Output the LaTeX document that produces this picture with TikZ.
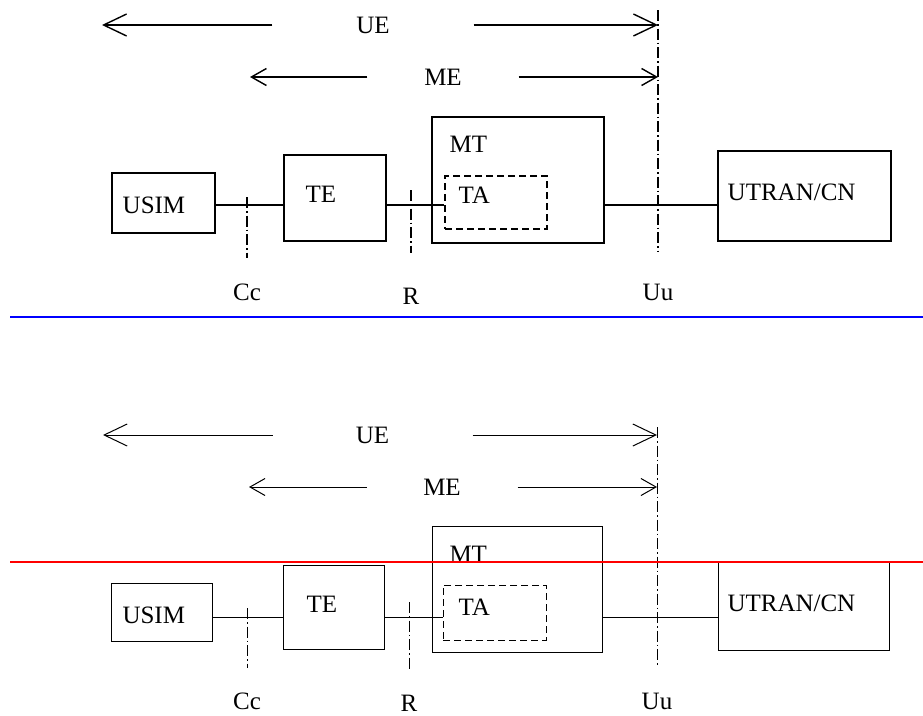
\documentclass[tikz,border=0pt]{standalone}
\usepackage{fontspec}
\setmainfont{Liberation Serif}
\usetikzlibrary{positioning,arrows.meta}

\begin{document}
\begin{tikzpicture}[x=1pt, y=-1pt, line width=1.4pt,
    box/.style={draw, rectangle, inner sep=0pt},
    tabox/.style={box, dash pattern=on 7pt off 4pt},
    txt/.style={inner sep=0pt, font=\fontsize{25}{30}\selectfont},
    refline/.style={dash pattern=on 11pt off 3pt on 1.5pt off 3pt},
    uespan/.style={-{Straight Barb[length=23pt, width=22pt]}},
    mespan/.style={-{Straight Barb[length=15pt, width=17pt]}}]
    \useasboundingbox (0,0) rectangle (923,715);

    % upper copy
    \node [box, minimum width=103pt, minimum height=60pt] (usimA) at (163.5,203) {};
    \node [box, minimum width=102pt, minimum height=86pt] (teA) at (335,198) {};
    \node [box, minimum width=172pt, minimum height=126pt] (mtA) at (518,180) {};
    \node [tabox, minimum width=102pt, minimum height=53pt] (taA) at (496,202.5) {};
    \node [box, minimum width=173pt, minimum height=90pt] (utranA) at (804.5,196) {};

    \node [txt, anchor=base west] (usimTxtA) at (122,213) {USIM};
    \node [txt, anchor=base west] (teTxtA) at (305,202) {TE};
    \node [txt, anchor=base west] (mtTxtA) at (449,152) {MT};
    \node [txt, anchor=base west] (taTxtA) at (458,203) {TA};
    \node [txt, anchor=base west] (utranTxtA) at (727,200) {UTRAN/CN};

    \node [txt, minimum width=200pt] (ueA) at (373,25) {UE};
    \node [txt, minimum width=150pt] (meA) at (443,77) {ME};
    \node [txt, anchor=base] (ccA) at (247,300) {Cc};
    \node [txt, anchor=base] (rA) at (411,304) {R};
    \node [txt, anchor=base] (uuA) at (658,300) {Uu};

    \coordinate (busA) at (0,205);
    \coordinate (ueTipA) at (102,25);
    \coordinate (meTipA) at (250,77);
    \coordinate (ccTopA) at (247,197);
    \coordinate (ccBotA) at (247,258);
    \coordinate (rTopA) at (411,190);
    \coordinate (rBotA) at (411,253);
    \coordinate (uuTopA) at (658,10);
    \coordinate (uuBotA) at (658,252);

    \draw[uespan] (ueA.west) -- (ueTipA);
    \draw[uespan] (ueA.east) -- (ueA -| uuTopA);
    \draw[mespan] (meA.west) -- (meTipA);
    \draw[mespan] (meA.east) -- (meA -| uuTopA);

    \draw (usimA.east |- busA) -- (teA.west |- busA);
    \draw (teA.east |- busA) -- (taA.west |- busA);
    \draw (mtA.east |- busA) -- (utranA.west |- busA);

    \draw[refline] (ccTopA) -- (ccBotA);
    \draw[refline] (rTopA) -- (rBotA);
    \draw[refline] (uuTopA) -- (uuBotA);

    % lower copy, thinner lines
    \begin{scope}[line width=1pt]
    \node [box, minimum width=101pt, minimum height=58pt] (usimB) at (161.5,612) {};
    \node [box, minimum width=101pt, minimum height=84pt] (teB) at (333.5,607) {};
    \node [box, minimum width=170pt, minimum height=126pt] (mtB) at (517,589) {};
    \node [tabox, minimum width=103pt, minimum height=55pt] (taB) at (494.5,612.5) {};
    \node [box, minimum width=171pt, minimum height=89pt] (utranB) at (803.5,605.5) {};

    \node [txt, anchor=base west] (usimTxtB) at (122,623) {USIM};
    \node [txt, anchor=base west] (teTxtB) at (306,612) {TE};
    \node [txt, anchor=base west] (mtTxtB) at (449,562) {MT};
    \node [txt, anchor=base west] (taTxtB) at (458,615) {TA};
    \node [txt, anchor=base west] (utranTxtB) at (727,611) {UTRAN/CN};

    \node [txt, minimum width=199pt] (ueB) at (372.5,435) {UE};
    \node [txt, minimum width=150pt] (meB) at (442,487) {ME};
    \node [txt, anchor=base] (ccB) at (247,709) {Cc};
    \node [txt, anchor=base] (rB) at (409,711) {R};
    \node [txt, anchor=base] (uuB) at (657,709) {Uu};

    \coordinate (busB) at (0,617);
    \coordinate (ueTipB) at (103,435);
    \coordinate (meTipB) at (249,487);
    \coordinate (ccTopB) at (247,608);
    \coordinate (ccBotB) at (247,668);
    \coordinate (rTopB) at (409,602);
    \coordinate (rBotB) at (409,670);
    \coordinate (uuTopB) at (657,427);
    \coordinate (uuBotB) at (657,667);

    \draw[uespan] (ueB.west) -- (ueTipB);
    \draw[uespan] (ueB.east) -- (ueB -| uuTopB);
    \draw[mespan] (meB.west) -- (meTipB);
    \draw[mespan] (meB.east) -- (meB -| uuTopB);

    \draw (usimB.east |- busB) -- (teB.west |- busB);
    \draw (teB.east |- busB) -- (taB.west |- busB);
    \draw (mtB.east |- busB) -- (utranB.west |- busB);

    \draw[refline] (ccTopB) -- (ccBotB);
    \draw[refline] (rTopB) -- (rBotB);
    \draw[refline] (uuTopB) -- (uuBotB);
    \end{scope}

    % separators
    \coordinate (blueL) at (10,317);
    \coordinate (blueR) at (923,317);
    \coordinate (redL) at (10,562);
    \coordinate (redR) at (923,562);
    \draw[blue, line width=2pt] (blueL) -- (blueR);
    \draw[red, line width=2pt] (redL) -- (redR);
\end{tikzpicture}
\end{document}
